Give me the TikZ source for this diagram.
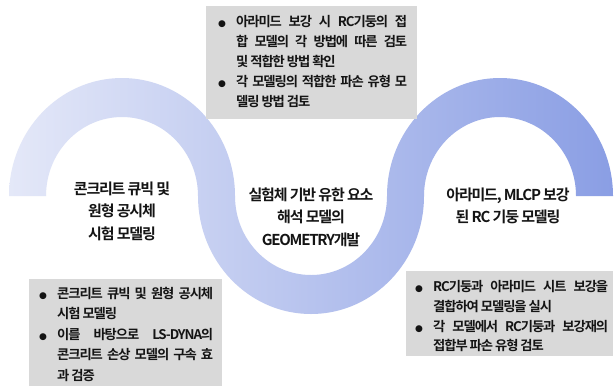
\documentclass[tikz,border=0pt]{standalone}
\usepackage{fontspec}
\setmainfont{Noto Sans CJK KR}[BoldFont={Noto Sans CJK KR Bold}]
\newfontfamily\tightfont{Noto Sans CJK KR Bold}[LetterSpace=-8]
\newfontfamily\bulfont{DejaVu Sans}
\usetikzlibrary{calc}
\definecolor{bandL}{RGB}{228,232,248}
\definecolor{bandR}{RGB}{138,158,228}
\definecolor{boxgray}{RGB}{217,217,217}
\definecolor{ink}{RGB}{20,20,20}
\newcommand{\bul}{\makebox[18pt][l]{\bulfont\fontsize{9}{9}\selectfont ●}}
\newcommand{\ind}{\hspace*{18pt}}
\newcommand{\jl}[2]{\makebox[#1][s]{#2}}
\tikzset{
  graybox/.style={fill=boxgray, draw=none, inner sep=0pt},
  boxtext/.style={anchor=north west, inner sep=0pt, align=left, text=ink,
    font=\tightfont\fontsize{13.3}{20.5}\selectfont},
  label/.style={align=center, inner sep=0pt, text=ink,
    font=\tightfont\fontsize{15}{22.5}\selectfont},
}
\begin{document}
\begin{tikzpicture}[x=1pt,y=-1pt]
\useasboundingbox (0,0) rectangle (615,386);
\fill[white] (0,0) rectangle (615,386);
% wave band
\begin{scope}
\clip (0,0) rectangle (615,386);
\shade[left color=bandL, right color=bandR]
  (9,196) arc[start angle=180, end angle=360, x radius=113, y radius=118]
  arc[start angle=180, end angle=0, x radius=76, y radius=79]
  arc[start angle=180, end angle=360, x radius=113, y radius=118]
  -- (576,196)
  arc[start angle=0, end angle=-180, x radius=76, y radius=79]
  arc[start angle=0, end angle=180, x radius=113, y radius=118]
  arc[start angle=0, end angle=-180, x radius=76, y radius=79]
  -- cycle;
\end{scope}
% gray boxes
\node[graybox, minimum width=211pt, minimum height=113pt] (tb) at (311.5,62.5) {};
\node[graybox, minimum width=193pt, minimum height=107pt] (lb) at (125.5,332.5) {};
\node[graybox, minimum width=207pt, minimum height=85pt] (rb) at (509.5,313.5) {};
% box texts
\node[boxtext, font=\tightfont\fontsize{13.3}{19.8}\selectfont] (tbt) at (218,15.5) {%
\bul\jl{171pt}{아라미드 보강 시 RC기둥의 접}\\
\ind\jl{171pt}{합 모델의 각 방법에 따른 검토}\\
\ind 및 적합한 방법 확인\\
\bul\jl{171pt}{각 모델링의 적합한 파손 유형 모}\\
\ind 델링 방법 검토};
\node[boxtext] (lbt) at (39,287) {%
\bul\jl{156pt}{콘크리트 큐빅 및 원형 공시체}\\
\ind 시험 모델링\\
\bul\jl{156pt}{이를 바탕으로 LS-DYNA의}\\
\ind\jl{156pt}{콘크리트 손상 모델의 구속 효}\\
\ind 과 검증};
\node[boxtext, font=\tightfont\fontsize{13.3}{19.7}\selectfont] (rbt) at (415,280.5) {%
\bul\jl{175pt}{RC기둥과 아라미드 시트 보강을}\\
\ind 결합하여 모델링을 실시\\
\bul\jl{175pt}{각 모델에서 RC기둥과 보강재의}\\
\ind 접합부 파손 유형 검토};
% main labels
\node[label] (l1) at (122,211) {콘크리트 큐빅 및\\원형 공시체\\시험 모델링};
\node[label] (l2) at (311,217) {실험체 기반 유한 요소\\해석 모델의\\GEOMETRY개발};
\node[label] (l3) at (508,206) {아라미드, MLCP 보강\\된 RC 기둥 모델링};
\end{tikzpicture}
\end{document}
